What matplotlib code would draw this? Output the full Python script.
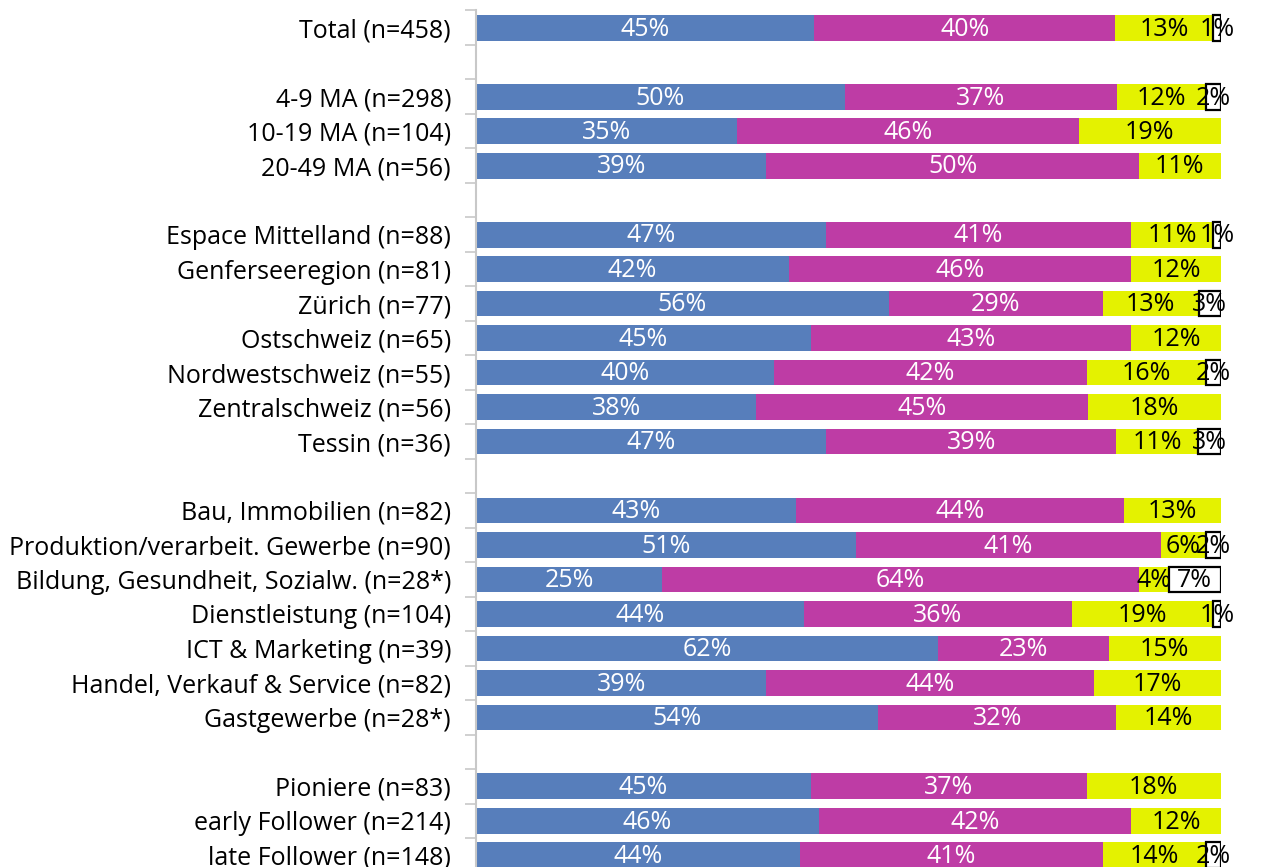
import numpy as np
import matplotlib.pyplot as plt

plt.rcParams['font.family'] = ['Open Sans', 'DejaVu Sans']

# rows from top to bottom, None = gap between groups
labels = ["Total (n=458)", None,
          "4-9 MA (n=298)", "10-19 MA (n=104)", "20-49 MA (n=56)", None,
          "Espace Mittelland (n=88)", "Genferseeregion (n=81)", "Zürich (n=77)",
          "Ostschweiz (n=65)", "Nordwestschweiz (n=55)", "Zentralschweiz (n=56)",
          "Tessin (n=36)", None,
          "Bau, Immobilien (n=82)", "Produktion/verarbeit. Gewerbe (n=90)",
          "Bildung, Gesundheit, Sozialw. (n=28*)", "Dienstleistung (n=104)",
          "ICT & Marketing (n=39)", "Handel, Verkauf & Service (n=82)",
          "Gastgewerbe (n=28*)", None,
          "Pioniere (n=83)", "early Follower (n=214)", "late Follower (n=148)"]

blue = [45, 0, 50, 35, 39, 0, 47, 42, 56, 45, 40, 38, 47, 0,
        43, 51, 25, 44, 62, 39, 54, 0, 45, 46, 44]
magenta = [40, 0, 37, 46, 50, 0, 41, 46, 29, 43, 42, 45, 39, 0,
           44, 41, 64, 36, 23, 44, 32, 0, 37, 42, 41]
yellow = [13, 0, 12, 19, 11, 0, 11, 12, 13, 12, 16, 18, 11, 0,
          13, 6, 4, 19, 15, 17, 14, 0, 18, 12, 14]
white = [1, 0, 2, 0, 0, 0, 1, 0, 3, 0, 2, 0, 3, 0,
         0, 2, 7, 1, 0, 0, 0, 0, 0, 0, 2]

colors = ['#577EBB', '#BE3CA5', '#E4F200', 'white']
txtcol = ['white', 'white', 'black', 'black']

fig = plt.figure(figsize=(12.61, 8.67), dpi=100)
ax = fig.add_axes([0.3775, -0.0065, 0.5905, 0.9945])

n = len(labels)
y = np.arange(n)
data = np.array([blue, magenta, yellow, white], dtype=float)
tot = data.sum(axis=0)
tot[tot == 0] = 1
norm = data / tot * 100

left = np.zeros(n)
for k in range(4):
    for i in range(n):
        if labels[i] is None or data[k, i] == 0:
            continue
        w = norm[k, i]
        if k == 3:
            ax.barh(y[i], w, left=left[i], height=0.75, color='white',
                    edgecolor='black', linewidth=1.6)
        else:
            ax.barh(y[i], w, left=left[i], height=0.75, color=colors[k],
                    edgecolor='none')
        ax.text(left[i] + w / 2, y[i] + 0.04, "%d%%" % data[k, i],
                ha='center', va='center', color=txtcol[k], fontsize=18)
    left += norm[k]

ax.set_ylim(n - 0.5, -0.5)
ax.set_xlim(0, 100)
ax.set_yticks(y)
ax.set_yticklabels([l if l else "" for l in labels], fontsize=18)
ax.set_yticks(np.arange(n + 1) - 0.5, minor=True)
ax.tick_params(axis='y', which='major', length=0, pad=18)
ax.tick_params(axis='y', which='minor', length=8, width=1.2, color='#C8C8C8')
ax.tick_params(axis='x', bottom=False, labelbottom=False)
for s in ['top', 'right', 'bottom']:
    ax.spines[s].set_visible(False)
ax.spines['left'].set_color('#C8C8C8')
ax.spines['left'].set_linewidth(1.5)

fig.savefig('out.png', dpi=100)
